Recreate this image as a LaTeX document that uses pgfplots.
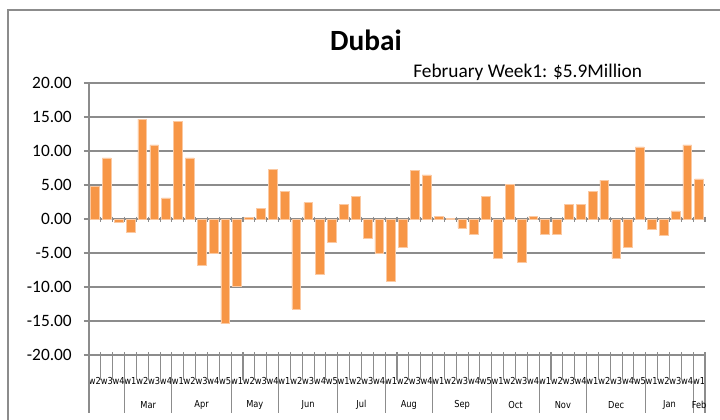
\documentclass[border=0pt]{standalone}
\usepackage{fontspec}
\setmainfont{Carlito}
\newfontfamily\tahoma[FakeStretch=0.86]{DejaVu Sans}
\usepackage{pgfplots}
\usepackage{pgfplotstable}
\pgfplotsset{compat=1.18}
\definecolor{barorange}{HTML}{F79646}
\definecolor{baredge}{HTML}{FBC9A2}
\definecolor{gridgray}{HTML}{8C8C8C}

\pgfplotstableread{
x y
1 4.85
2 9.0
3 -0.5
4 -1.9
5 14.7
6 10.9
7 3.1
8 14.3
9 9.0
10 -6.8
11 -5.1
12 -15.4
13 -9.9
14 0.2
15 1.6
16 7.3
17 4.1
18 -13.2
19 2.4
20 -8.1
21 -3.4
22 2.2
23 3.3
24 -2.9
25 -5.1
26 -9.2
27 -4.2
28 7.1
29 6.5
30 0.4
31 0.08
32 -1.3
33 -2.3
34 3.3
35 -5.8
36 5.1
37 -6.4
38 0.4
39 -2.2
40 -2.2
41 2.2
42 2.2
43 4.1
44 5.7
45 -5.8
46 -4.2
47 10.6
48 -1.5
49 -2.4
50 1.2
51 10.9
52 5.9
}\datatable

\begin{document}
\begin{tikzpicture}
\path[use as bounding box] (-89*0.75pt,-64*0.75pt) rectangle (631*0.75pt,355*0.75pt);
\begin{axis}[
  at={(0,0)}, anchor=south west,
  scale only axis, width=462pt, height=204pt,
  xmin=0.5, xmax=52.5, ymin=-20, ymax=20,
  axis x line=bottom, axis y line=left,
  x axis line style={draw=none},
  y axis line style={draw=gridgray, line width=0.8pt, -},
  ytick={-20,-15,...,20},
  ymajorgrids, grid style={draw=gridgray, line width=0.8pt},
  tick align=outside,
  major tick length=3.75pt,
  y tick style={draw=gridgray, line width=0.8pt},
  x tick style={draw=none},
  yticklabel style={font=\fontsize{13}{13}\selectfont, inner sep=0pt, anchor=east, xshift=-9pt,
    /pgf/number format/.cd, fixed, fixed zerofill, precision=2, assume math mode=true},
  xtick={1,...,52},
  xticklabels={w2,w3,w4,w1,w2,w3,w4,w1,w2,w3,w4,w5,w1,w2,w3,w4,w1,w2,w3,w4,w5,w1,w2,w3,w4,w1,w2,w3,w4,w1,w2,w3,w4,w5,w1,w2,w3,w4,w1,w2,w3,w4,w1,w2,w3,w4,w5,w1,w2,w3,w4,w1},
  xticklabel style={font=\tahoma\fontsize{7.2}{7.2}\selectfont, anchor=center, inner sep=0pt, yshift=-15.75pt},
  clip=false,
]
\addplot[ybar, bar width=0.74, fill=barorange, draw=baredge, line width=0.4pt] table[x=x,y=y]{\datatable};
\pgfplotsinvokeforeach{0.5,1.5,...,52.5}{
  \draw[gridgray, line width=0.8pt] (axis cs:#1,0.35) -- (axis cs:#1,-0.5);
  \draw[gridgray, line width=0.8pt] (axis cs:#1,-19.56) -- (axis cs:#1,-23.7);
}
\pgfplotsinvokeforeach{0.5,3.5,7.5,12.5,16.5,21.5,25.5,29.5,34.5,38.5,42.5,47.5,51.5,52.5}{
  \draw[gridgray, line width=0.8pt] (axis cs:#1,-19.56) -- (axis cs:#1,-28.5);
}
\foreach \m/\c in {Mar/5.5,Apr/10,May/14.5,Jun/19,Jul/23.5,Aug/27.5,Sep/32,Oct/36.5,Nov/40.5,Dec/45,Jan/49.5,Feb/52}{
  \edef\tmp{\noexpand\node[font=\noexpand\tahoma\noexpand\fontsize{7.2}{7.2}\noexpand\selectfont, inner sep=0pt] at (axis cs:\c,-27.35) {\m};}
  \tmp
}
\end{axis}
\begin{scope}[x=0.75pt,y=0.75pt]
\draw[gridgray, line width=0.8pt] (-81,345) rectangle (646,-75);
\node[anchor=base, inner sep=0pt, font=\bfseries\fontsize{22}{22}\selectfont] at (277,304.3) {Dubai};
\node[anchor=base west, inner sep=0pt, font=\fontsize{14.5}{14.5}\selectfont] at (324,277.7) {February Week1: \$5.9Million};
\end{scope}
\end{tikzpicture}
\end{document}
